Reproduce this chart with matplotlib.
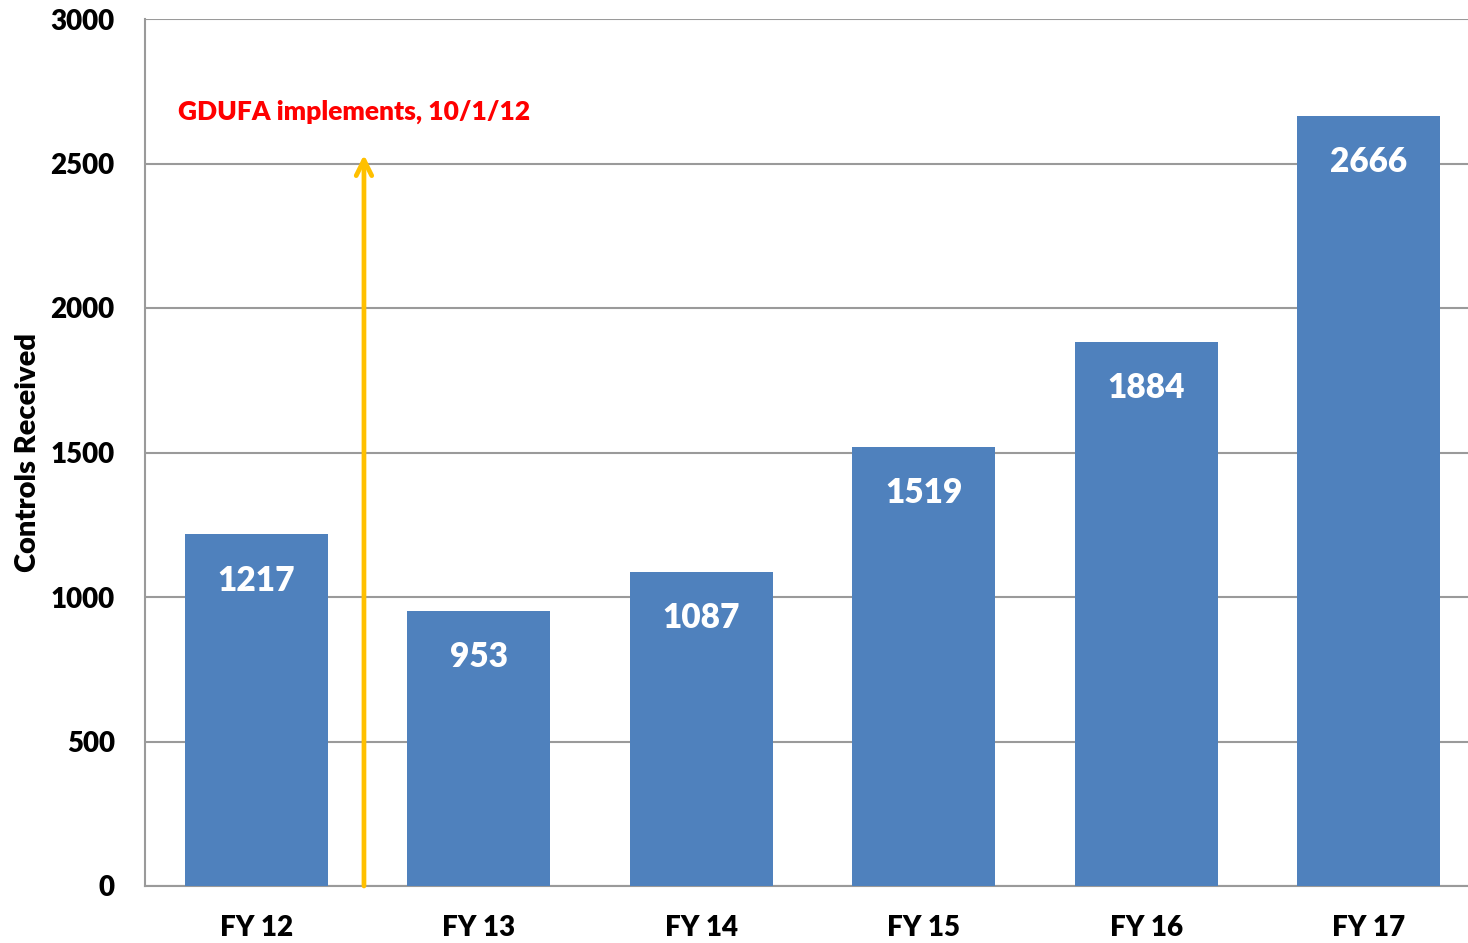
import matplotlib
matplotlib.use("Agg")
import matplotlib.pyplot as plt

categories = ["FY 12", "FY 13", "FY 14", "FY 15", "FY 16", "FY 17"]
values = [1217, 953, 1087, 1519, 1884, 2666]
yticks = [0, 500, 1000, 1500, 2000, 2500, 3000]
annotation_text = "GDUFA implements, 10/1/12"
arrow_x = 0.483
arrow_top = 2530
y_label = "Controls Received"

plt.rcParams['font.family'] = ['Lato', 'DejaVu Sans']
plt.rcParams['font.weight'] = 'bold'

fig = plt.figure(figsize=(14.68, 9.43), dpi=100)
ax = fig.add_axes([145.3/1468, 57/943, (1480 - 145.3)/1468, (886-19)/943])

x = list(range(len(categories)))
ax.bar(x, values, width=0.643, color="#4F81BD", zorder=3)
for xi, v in zip(x, values):
    ax.text(xi, v - 160, str(v), ha="center", va="center", color="white",
            fontsize=24, fontweight="heavy", zorder=4)

ax.set_xlim(-0.5, 5.5)
ax.set_ylim(0, 3000)
ax.set_yticks(yticks)
ax.set_yticklabels([str(t) for t in yticks], fontsize=20, fontweight="heavy")
ax.set_xticks(x)
ax.set_xticklabels(categories, fontsize=20, fontweight="heavy")
ax.tick_params(axis="both", length=0)
ax.tick_params(axis="y", pad=22)
ax.tick_params(axis="x", pad=21)
ax.yaxis.grid(True, color="#9a9a9a", linewidth=1.5, zorder=0)
for s in ["top", "right"]:
    ax.spines[s].set_visible(False)
for s in ["left", "bottom"]:
    ax.spines[s].set_color("#9a9a9a")
    ax.spines[s].set_linewidth(1.5)
ax.set_ylabel(y_label, fontsize=21, fontweight="heavy", labelpad=7)

ax.annotate("", xy=(arrow_x, arrow_top), xytext=(arrow_x, 0),
            arrowprops=dict(arrowstyle="->", color="#FFC000", lw=3.4,
                            mutation_scale=28, shrinkA=0, shrinkB=0), zorder=5)
ax.text(0.44, 2680, annotation_text, ha="center", va="center", color="#FF0000",
        fontsize=19, fontweight="heavy")

fig.savefig("out.png", dpi=100)
